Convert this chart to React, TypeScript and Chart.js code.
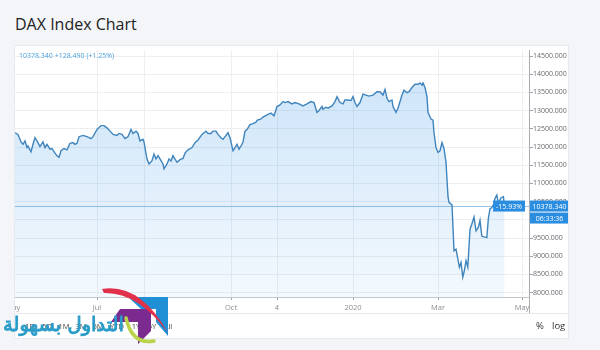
import React, { useEffect, useRef } from 'react';
import { Chart, registerables } from 'chart.js';

Chart.register(...registerables);

// trading-session position (0 = first session shown) and DAX closes
const sessionIdx = [0,1.5,3,4,5,6,6.5,8,9,10,11,12.5,14,15,16,17.5,18.5,20,21,22,23,24.5,26,27.5,29,30,31,32,34,36,38,39,41,43,44.5,46,47.5,49,51,52,53.5,55,56.5,58,59,60.5,61.5,62.5,64,64.5,66,67,68.5,69.5,70.5,71.5,73,74,74.5,76,77,78,79,80,81,82.5,84,85,86.5,88.5,90,91.5,93.5,94.5,95.5,96.5,98,99,100.5,101.5,103,104,105.5,106.5,107.5,109,110,111,112,113.5,114,115,116,117.5,119,120.5,121,123,124,126,128,129.5,131,132.5,134,135,136.5,138.5,140,142,144,146,148,149.5,151,152,153.5,154,155.5,156.5,158.5,160,161,162.5,164,165,166.5,168,169,170,171,172.5,174,175.5,177,179,181,182.5,184,185,186,187,188.5,189,190.5,191.5,193.5,194.5,196,197,198.5,200,201.5,202.5,203.5,204,205,206,206.5,208,209,209.5,210.5,211.5,212.5,213.5,214.5,215.5,216.5,217,218.5,219.5,220.5,221.2,222.2,223,223.9,224.7,225.5,226.4,227.5,228.4,229.5,230.5,231.7,232.5,233.4,234.5,235.9,236.7,237.5,238.4,239.2,240,240.9,241.7,243,244.2,244.8];

const closes = [12392,12346,12140,12075,12167,11986,12032,11870,12075,12257,12167,12013,12140,11986,12075,11940,11959,11832,11762,11716,11897,11959,11924,12104,12121,12075,12102,12284,12319,12284,12230,12284,12481,12589,12589,12527,12437,12346,12319,12373,12346,12230,12284,12481,12373,12437,12373,12167,12211,12140,11670,11535,11627,11805,11670,11762,11627,11535,11400,11535,11670,11616,11762,11670,11581,11654,11689,11832,11924,11986,12121,12194,12346,12392,12437,12373,12373,12437,12437,12346,12257,12211,12319,12392,12257,11897,11986,12075,11940,12075,12140,12437,12481,12616,12643,12681,12735,12770,12824,12886,12932,12859,13113,13157,13248,13222,13248,13184,13222,13184,13130,13184,13248,13222,12951,13005,13113,13040,13094,13067,13130,13248,13384,13222,13184,13292,13292,13276,13384,13222,13113,13222,13454,13427,13400,13427,13519,13519,13427,13581,13338,13248,13292,13113,12951,13067,13427,13562,13492,13519,13635,13724,13724,13762,13700,13762,13635,13384,12951,12770,12735,12392,11986,11851,11897,12121,11959,11581,10635,10480,10410,9149,9194,8986,8697,8832,8427,8608,8878,8697,9743,9878,10076,9698,9800,9986,9554,9530,9509,10049,10302,10338,10410,10589,10680,10454,10608,10635,10378];

const xTickIdx = [-1, 41, 64.5, 108, 131, 169, 211.5, 253.5];
const xTickLabels = ['May', 'Jul', '', 'Oct', '4', '2020', 'Mar', 'May'];

const yTickValues = [8000, 8500, 9000, 9500, 10000, 10500, 11000, 11500, 12000, 12500, 13000, 13500, 14000, 14500];
const yMin = 7880;
const yMax = 14660;

const lastPrice = 10378.34;
const lastChange = '+128.490';
const lastChangePct = '(+1.25%)';
const periodChange = '-15.93%';
const countdown = '06:33:36';

const rangeButtons = ['1D', '5D', '1M', '3M', '6M', 'YTD', '1Y', '5Y', 'All'];
const rangeButtonLeft = [15, 32, 49, 66, 83, 102, 121, 137, 153];

const FONT = "'Open Sans', 'DejaVu Sans', sans-serif";

export default function App() {
  const canvasRef = useRef<HTMLCanvasElement | null>(null);

  useEffect(() => {
    const canvas = canvasRef.current;
    if (!canvas) return;

    const priceLabels = {
      id: 'priceLabels',
      afterDraw(chart: any) {
        const { ctx, chartArea, scales } = chart;
        const y = scales.y.getPixelForValue(lastPrice);
        ctx.save();
        ctx.strokeStyle = 'rgba(66,150,215,0.55)';
        ctx.lineWidth = 1;
        ctx.beginPath();
        ctx.moveTo(chartArea.left, Math.round(y) + 0.5);
        ctx.lineTo(chartArea.right, Math.round(y) + 0.5);
        ctx.stroke();

        ctx.font = `7px ${FONT}`;
        ctx.textBaseline = 'middle';
        ctx.textAlign = 'center';
        const boxH = 11;
        const pw = ctx.measureText(periodChange).width + 6;
        const px = chartArea.right - 4 - pw;
        ctx.fillStyle = '#2b8de0';
        ctx.fillRect(px, y - boxH / 2, pw, boxH);
        ctx.fillStyle = '#fff';
        ctx.fillText(periodChange, px + pw / 2, y + 0.5);
        const ax = chartArea.right + 1;
        const aw = 39;
        ctx.fillStyle = '#2b8de0';
        ctx.fillRect(ax, y - boxH / 2, aw, boxH);
        ctx.fillRect(ax, y + boxH / 2 + 1, aw, boxH);
        ctx.fillStyle = '#fff';
        ctx.fillText(lastPrice.toFixed(3), ax + aw / 2, y + 0.5);
        ctx.fillText(countdown, ax + aw / 2, y + boxH + 1.5);
        ctx.restore();
      },
    };

    const chart = new Chart(canvas, {
      type: 'line',
      data: {
        datasets: [
          {
            data: sessionIdx.map((t, i) => ({ x: t, y: closes[i] })),
            borderColor: '#3f84bc',
            borderWidth: 1.4,
            pointRadius: 0,
            tension: 0,
            fill: 'start',
            backgroundColor: (c: any) => {
              const { chart: ch } = c;
              const area = ch.chartArea;
              if (!area) return 'rgba(30,136,229,0.12)';
              const g = ch.ctx.createLinearGradient(0, area.top, 0, area.bottom);
              g.addColorStop(0, 'rgba(30,136,229,0.24)');
              g.addColorStop(1, 'rgba(30,136,229,0.05)');
              return g;
            },
          },
        ],
      },
      options: {
        animation: false,
        responsive: false,
        devicePixelRatio: 1,
        layout: { padding: { left: 20, right: 0, top: 0, bottom: 0 } },
        plugins: { legend: { display: false }, tooltip: { enabled: false } },
        scales: {
          x: {
            type: 'linear',
            min: 0,
            max: 257,
            afterBuildTicks: (s: any) => {
              s.ticks = xTickIdx.map((v) => ({ value: v }));
            },
            afterFit: (s: any) => {
              s.height = 16;
            },
            ticks: {
              autoSkip: false,
              maxRotation: 0,
              padding: 3,
              color: '#8a8d92',
              font: { size: 7.5, family: FONT },
              callback: (_v: any, i: number) => xTickLabels[i],
            },
            grid: { color: '#eceef1', tickLength: 3, tickColor: '#a0a4a9' },
            border: { color: '#c3c6cb' },
          },
          y: {
            position: 'right',
            min: yMin,
            max: yMax,
            afterBuildTicks: (s: any) => {
              s.ticks = yTickValues.map((v) => ({ value: v }));
            },
            afterFit: (s: any) => {
              s.width = 39;
            },
            ticks: {
              autoSkip: false,
              padding: 0,
              color: '#66696e',
              font: { size: 7, family: FONT },
              callback: (v: any) => Number(v).toFixed(3),
            },
            grid: { color: '#eceef1', tickLength: 4, tickColor: '#a0a4a9' },
            border: { color: '#a9adb2' },
          },
        },
      },
      plugins: [priceLabels],
    } as any);

    return () => chart.destroy();
  }, []);

  return (
    <div style={{ position: 'fixed', left: 0, top: 0, width: 600, height: 350, background: '#f4f5f8', overflow: 'hidden', fontFamily: FONT }}>
      <div style={{ position: 'absolute', left: 15, top: 16, fontSize: 16, lineHeight: '16px', color: '#222', whiteSpace: 'nowrap' }}>
        DAX Index Chart
      </div>
      <div style={{ position: 'absolute', left: 15, top: 46, width: 553, height: 292, background: '#fff', boxShadow: '0 0 0 1px #e6e9ed', overflow: 'hidden' }}>
        <div style={{ position: 'absolute', left: -20, top: 0, width: 573, height: 267 }}>
          <canvas ref={canvasRef} width={573} height={267} style={{ display: 'block', width: 573, height: 267 }} />
        </div>
        <div style={{ position: 'absolute', left: 4, top: 6, fontSize: 7, lineHeight: '7px', color: '#4ba3dc', whiteSpace: 'nowrap' }}>
          {lastPrice.toFixed(3)} {lastChange} {lastChangePct}
        </div>
        <div style={{ position: 'absolute', left: 514, top: 251, width: 1, height: 16, background: '#a9adb2' }} />
        <div style={{ position: 'absolute', left: 0, top: 267, width: 553, height: 1, background: '#e6e9ed' }} />
        {rangeButtons.map((b, i) => (
          <div key={b} style={{ position: 'absolute', left: rangeButtonLeft[i], top: 276, transform: 'translateX(-50%)', fontSize: 7.5, lineHeight: '8px', color: '#444', whiteSpace: 'nowrap' }}>
            {b}
          </div>
        ))}
        <div style={{ position: 'absolute', left: 521, top: 275, fontSize: 9.5, lineHeight: '10px', color: '#333' }}>%</div>
        <div style={{ position: 'absolute', left: 537, top: 275, fontSize: 9.5, lineHeight: '10px', color: '#333' }}>log</div>
      </div>
      <svg width={600} height={350} style={{ position: 'absolute', left: 0, top: 0, pointerEvents: 'none' }}>
        <path d="M128 297 L168 297 L168 336 L156 322 L156 309 L141 309 Z" fill="#1f8fd6" />
        <path d="M151 309 L120 309 L111 322 L138 322 L138 344 L151 331 Z" fill="#7b2a8f" />
        <path d="M102 289 Q140 283 168 333 Q138 292 104 293 Z" fill="#e0304a" />
        <path d="M126 318 Q132 345 154 341" stroke="#b9d44a" strokeWidth={3.5} fill="none" strokeLinecap="round" />
      </svg>
      <div lang="ar" dir="rtl" style={{ position: 'absolute', left: 3, top: 313, fontFamily: "'DejaVu Sans'", fontWeight: 'normal', fontSize: 19.5, lineHeight: '24px', color: '#2a9cc8', whiteSpace: 'nowrap', WebkitTextStroke: '0.9px #2a9cc8' } as any}>
        التداول بسهولة
      </div>
    </div>
  );
}
